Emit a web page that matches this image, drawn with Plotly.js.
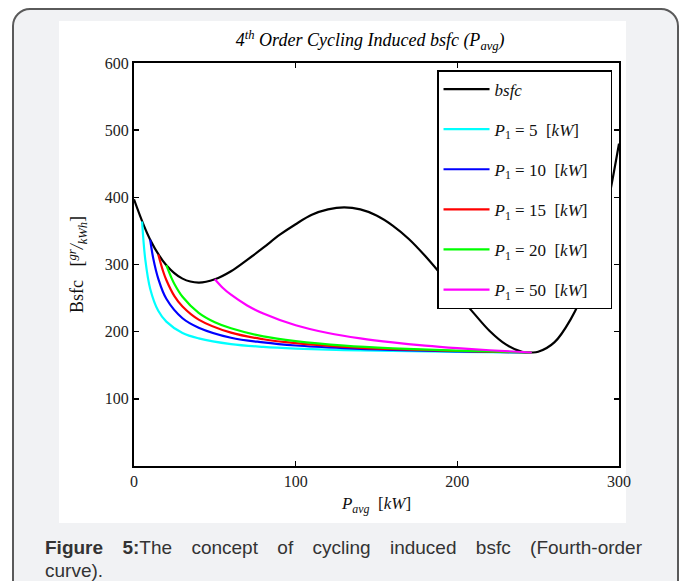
<!DOCTYPE html>
<html>
<head>
<meta charset="utf-8">
<script src="https://cdn.plot.ly/plotly-3.0.1.min.js"></script>
<style>
  html, body { margin:0; padding:0; width:683px; height:581px; overflow:hidden; background:#ffffff; }
  #box { position:absolute; left:12px; top:8px; width:663px; height:620px; border:2px solid #5a5a5a; border-radius:18px; background:#f1f2f4; }
  #white { position:absolute; left:59px; top:21px; width:567px; height:502px; background:#ffffff; }
  #chart { position:absolute; left:0; top:0; width:683px; height:581px; }
  #cap { position:absolute; left:45px; top:536px; width:597px; font-family:"Liberation Sans", Arial, sans-serif; font-size:19px; line-height:23px; color:#333; }
  #cap .l1 { text-align:justify; text-align-last:justify; }
</style>
</head>
<body>
<div id="box"></div>
<div id="white"></div>
<div id="chart"></div>
<div id="cap"><div class="l1"><b>Figure 5:</b>The concept of cycling induced bsfc (Fourth-order</div><div>curve).</div></div>
<script>
// bsfc curve (4th order)
const bsfcX = [0,10,20,30,40,50,60,70,80,90,100,110,120,130,140,150,160,170,180,190,200,210,220,230,240,246,250,260,270,280,290,300];
const bsfcY = [397,337,299,279,273,278,290,307,325,344,360,374,382,385,382,373,358,338,313,285,256,228,201,181,170,169,170,184,218,270,356,480];

// cycling induced bsfc curves
const p5X  = [5,7,10,15,20,30,40,60,80,100,130,160,200,246];
const p5Y  = [364,307,264,231,215,198,190,181.5,177.4,174.9,172.6,171.2,169.9,169];
const p10X = [10,12,15,20,30,40,60,80,100,130,160,200,246];
const p10Y = [337,308,279,249,220,206,191,184,179.4,175.4,172.8,170.6,169];
const p15X = [15,18,20,25,30,40,60,80,100,130,160,200,246];
const p15Y = [315,290,277,253,237.5,218,198.5,188.7,182.9,177.5,174.1,171.2,169];
const p20X = [20,23,25,30,40,50,60,80,100,130,160,200,246];
const p20Y = [299,281,271,252,228,214,205,193,186,179.3,175.2,171.7,169];
const p50X = [50,55,60,70,80,100,120,140,160,180,200,220,246];
const p50Y = [278,265,255,239,227,209.5,198,190,184,179.2,175.4,172.3,169];

const pad = '&nbsp;&nbsp;&nbsp;&nbsp;';
const names = ['<i>bsfc</i>',
  '<i>P</i><sub>1</sub> = 5  [<i>kW</i>]' + pad,
  '<i>P</i><sub>1</sub> = 10  [<i>kW</i>]' + pad,
  '<i>P</i><sub>1</sub> = 15  [<i>kW</i>]' + pad,
  '<i>P</i><sub>1</sub> = 20  [<i>kW</i>]' + pad,
  '<i>P</i><sub>1</sub> = 50  [<i>kW</i>]' + pad];
const colors = ['#000000','#00ffff','#0000ff','#ff0000','#00ff00','#ff00ff'];
const xs = [bsfcX,p5X,p10X,p15X,p20X,p50X];
const ys = [bsfcY,p5Y,p10Y,p15Y,p20Y,p50Y];

const traces = xs.map((x,i)=>({
  x:x, y:ys[i], type:'scatter', mode:'lines', name:names[i],
  legendgroup:'g'+i,
  line:{color:colors[i], width:2.2, shape:'spline', smoothing:1}
}));

const serif = 'Liberation Serif, DejaVu Serif, serif';
const axisCommon = {
  showgrid:false, zeroline:false, showline:true, linecolor:'#000', linewidth:2,
  mirror:'ticks', ticks:'inside', ticklen:5, tickwidth:1.5, tickcolor:'#000',
  tickfont:{family:serif, size:16, color:'#222'}
};
const layout = {
  width:683, height:581,
  margin:{l:134, r:64, t:63, b:115},
  paper_bgcolor:'rgba(0,0,0,0)', plot_bgcolor:'#ffffff',
  showlegend:true,
  title:{text:'<i>4<sup>th</sup> Order Cycling Induced bsfc (P<sub>avg</sub>)</i>',
         font:{family:serif, size:18, color:'#000'}, xref:'container', x:0.542, xanchor:'center',
         yref:'container', y:0.931, yanchor:'middle'},
  xaxis:Object.assign({}, axisCommon, {range:[0,300], tickvals:[0,100,200,300], ticktext:['0','100','200','300'],
         title:{text:'<i>P<sub>avg</sub></i>  [<i>kW</i>]', font:{family:serif, size:17, color:'#111'}, standoff:8}}),
  yaxis:Object.assign({}, axisCommon, {range:[0,600], tickvals:[100,200,300,400,500,600], ticktext:['100','200','300','400','500','600'],
         title:{text:'Bsfc   [<i><sup>gr</sup>/<sub>kWh</sub></i>]', font:{family:serif, size:18, color:'#111'}, standoff:16}}),
  legend:{x:0.9856, xanchor:'right', y:0.9826, yanchor:'top', bgcolor:'#ffffff',
          bordercolor:'#000', borderwidth:1.5, tracegroupgap:15, itemwidth:46,
          font:{family:serif, size:17, color:'#111'}}
};
Plotly.newPlot('chart', traces, layout, {displayModeBar:false, staticPlot:true});
</script>
</body>
</html>
